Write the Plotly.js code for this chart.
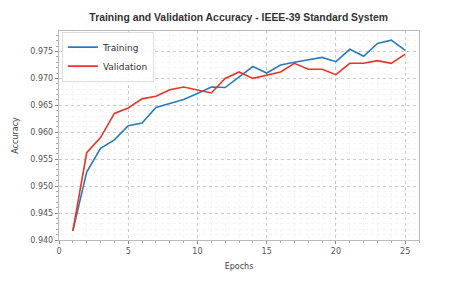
<!DOCTYPE html>
<html><head><meta charset="utf-8">
<script src="https://cdn.plot.ly/plotly-3.0.1.min.js"></script>
<style>html,body{margin:0;padding:0;background:#fff}#c{width:453px;height:287px}</style>
</head><body><div id="c"></div>
<script>
const epochs = [1,2,3,4,5,6,7,8,9,10,11,12,13,14,15,16,17,18,19,20,21,22,23,24,25];
const training = [0.9417,0.9526,0.9570,0.9586,0.9612,0.9617,0.9646,0.9653,0.9661,0.9672,0.9684,0.9683,0.9703,0.9722,0.9710,0.9725,0.9730,0.9734,0.9739,0.9731,0.9754,0.9741,0.9765,0.9771,0.9752];
const validation = [0.9417,0.9562,0.9590,0.9635,0.9645,0.9662,0.9667,0.9679,0.9684,0.9679,0.9673,0.9700,0.9712,0.9700,0.9706,0.9712,0.9728,0.9717,0.9717,0.9707,0.9728,0.9728,0.9733,0.9728,0.9745];
const seriesNames = ['Training','Validation'];

const traces = [
  {x: epochs, y: training, name: seriesNames[0], mode:'lines', line:{color:'#2b7bba', width:1.6}},
  {x: epochs, y: validation, name: seriesNames[1], mode:'lines', line:{color:'#e8352b', width:1.6}}
];
const gridMajor = {gridcolor:'#bdbdbd', griddash:'dot', gridwidth:0.8};
const layout = {
  width:453, height:287,
  margin:{l:59, r:34, t:31, b:47},
  paper_bgcolor:'#fff', plot_bgcolor:'#fff',
  title:{text:'<b>Training and Validation Accuracy - IEEE-39 Standard System</b>', x:0.527, xanchor:'center', y:0.94, yanchor:'middle', font:{family:'Liberation Sans, Arial, sans-serif', size:10.4, color:'#333'}},
  font:{family:'DejaVu Sans, sans-serif', size:8, color:'#555'},
  xaxis:{range:[0,26], dtick:5, tick0:0, showgrid:true, ...gridMajor, zeroline:false,
    showline:true, mirror:true, linecolor:'#bbb', linewidth:1.2,
    ticks:'outside', ticklen:3, tickcolor:'#888',
    minor:{dtick:1, showgrid:true, gridcolor:'#ececec', gridwidth:0.6, ticks:'outside', ticklen:2, tickcolor:'#aaa'},
    title:{text:'Epochs', font:{size:8, color:'#444'}, standoff:8}},
  yaxis:{range:[0.940,0.9788], dtick:0.005, tick0:0.94, tickformat:'.3f', showgrid:true, ...gridMajor, zeroline:false,
    showline:true, mirror:true, linecolor:'#bbb', linewidth:1.2,
    ticks:'outside', ticklen:3, tickcolor:'#888',
    minor:{dtick:0.001, showgrid:true, gridcolor:'#ececec', gridwidth:0.6, ticks:'outside', ticklen:2, tickcolor:'#aaa'},
    title:{text:'Accuracy', font:{size:8, color:'#444'}, standoff:10}},
  legend:{x:0.008, y:0.997, xanchor:'left', yanchor:'top', bgcolor:'rgba(255,255,255,0.85)', bordercolor:'#ddd', borderwidth:1,
    font:{size:9, color:'#333'}, tracegroupgap:0, itemwidth:30},
  showlegend:true
};
Plotly.newPlot('c', traces, layout, {displayModeBar:false, staticPlot:true});
</script></body></html>
